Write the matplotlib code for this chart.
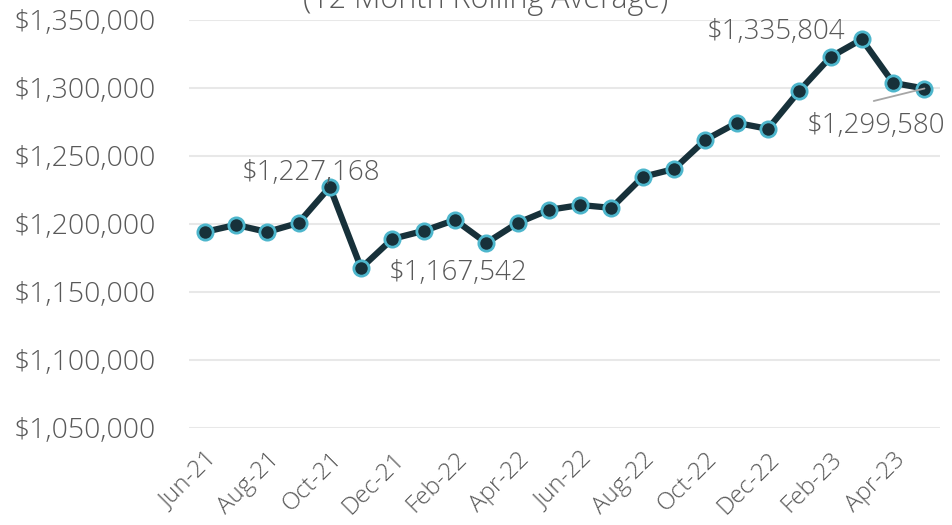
import matplotlib
matplotlib.use("Agg")
import matplotlib.pyplot as plt
from matplotlib.ticker import FuncFormatter

# 12 month rolling average, Jun-21 .. May-23
months = ['Jun-21', 'Jul-21', 'Aug-21', 'Sep-21', 'Oct-21', 'Nov-21', 'Dec-21', 'Jan-22',
          'Feb-22', 'Mar-22', 'Apr-22', 'May-22', 'Jun-22', 'Jul-22', 'Aug-22', 'Sep-22',
          'Oct-22', 'Nov-22', 'Dec-22', 'Jan-23', 'Feb-23', 'Mar-23', 'Apr-23', 'May-23']
values = [1194100, 1199300, 1194100, 1200700, 1227168, 1167542, 1189000, 1194900,
          1202900, 1186000, 1200700, 1210300, 1213900, 1211800, 1234600, 1240400,
          1261800, 1274300, 1269900, 1297800, 1322800, 1335804, 1303700, 1299580]
yticks = [1050000, 1100000, 1150000, 1200000, 1250000, 1300000, 1350000]

txt = '#595959'
plt.rcParams['font.family'] = ['Open Sans', 'DejaVu Sans']
plt.rcParams['font.weight'] = 'light'

fig = plt.figure(figsize=(9.52, 5.25), dpi=100)
ax = fig.add_axes([0.1985, 0.185, 0.789, 0.777])

x = list(range(len(months)))
ax.plot(x, values, color='#17313a', lw=4.5, marker='o', ms=11,
        markerfacecolor='#17313a', markeredgecolor='#4db6cc', mew=2, zorder=3)

ax.set_xlim(-0.5, len(months) - 0.5)
ax.set_ylim(1050000, 1350000)
ax.set_yticks(yticks)
ax.yaxis.set_major_formatter(FuncFormatter(lambda v, p: '${:,.0f}'.format(v)))
ax.set_xticks(x[::2])
ax.set_xticklabels(months[::2], rotation=45, ha='right', rotation_mode='anchor')
ax.tick_params(length=0, labelcolor=txt)
ax.tick_params(axis='y', labelsize=20.5, pad=24)
ax.tick_params(axis='x', labelsize=17.5, pad=14)
ax.grid(axis='y', color='#e8e8e8', lw=1.5)
ax.set_axisbelow(True)
for s in ax.spines.values():
    s.set_visible(False)

# data labels
lab = dict(color=txt, fontsize=20, va='baseline')
ax.text(3.39, 1232300, '$1,227,168', ha='center', **lab)
ax.text(5.9, 1158800, '$1,167,542', ha='left', **lab)
ax.text(20.49, 1336000, '$1,335,804', ha='right', **lab)
ax.text(23.67, 1266900, '$1,299,580', ha='right', **lab)
# leader line for the last label
ax.annotate('', xy=(23, 1299580), xytext=(21.38, 1290400),
            arrowprops=dict(arrowstyle='-', color='#a6a6a6', lw=1.3,
                            shrinkA=0, shrinkB=0))

fig.text(0.51, 0.985, '(12 Month Rolling Average)', color=txt, fontsize=22,
         ha='center', va='baseline')

fig.savefig('out.png', dpi=100)
